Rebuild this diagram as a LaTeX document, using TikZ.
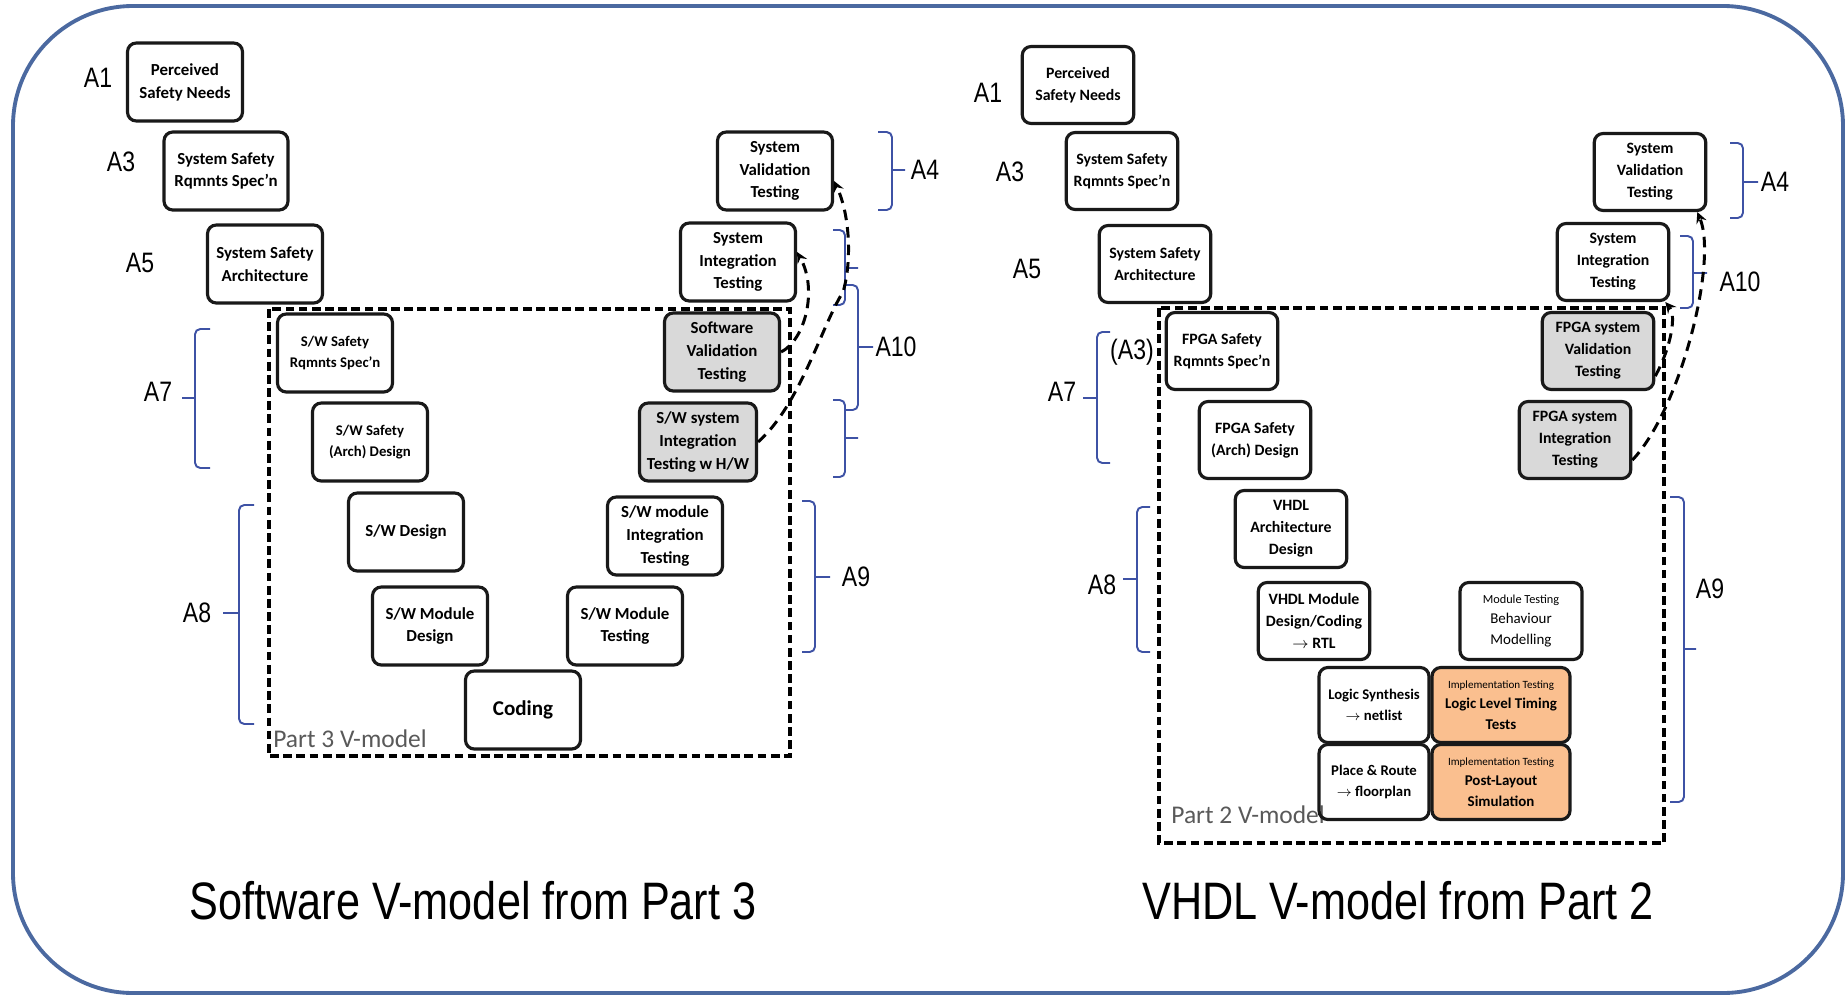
\documentclass[tikz,border=0pt]{standalone}
\usepackage{fontspec}
\setmainfont{Carlito}
\newfontfamily\narrowfont[FakeStretch=0.82]{Liberation Sans}
\definecolor{framecol}{RGB}{75,105,160}
\definecolor{bracecol}{RGB}{62,82,165}
\definecolor{testgray}{RGB}{217,217,217}
\definecolor{implorange}{RGB}{250,191,143}
\definecolor{partgray}{RGB}{89,89,89}
\tikzset{
  outerframe/.style={draw=framecol, line width=2.2pt, rounded corners=2.4cm},
  vmodel/.style={draw=black, line width=1.8pt, dash pattern=on 5pt off 2.5pt},
  vbox/.style={draw=black!90, line width=1.8pt, rounded corners=5pt, minimum width=2.3cm,
    minimum height=1.56cm, inner sep=1pt, align=center, font=\bfseries\fontsize{9.6}{13}\selectfont},
  rbox/.style={vbox, minimum width=2.23cm, minimum height=1.54cm, font=\bfseries\fontsize{9}{12.5}\selectfont},
  smallbox/.style={font=\bfseries\fontsize{8.4}{12}\selectfont},
  testbox/.style={fill=testgray},
  implbox/.style={fill=implorange, minimum width=2.76cm, minimum height=1.5cm, font=\bfseries\fontsize{8.5}{11.5}\selectfont},
  alabel/.style={font=\narrowfont\fontsize{16}{18}\selectfont, inner sep=0pt},
  abrace/.style={draw=bracecol, line width=1.1pt, rounded corners=3pt},
  flow/.style={->, line width=1.7pt, dash pattern=on 6pt off 4pt},
  partlabel/.style={font=\fontsize{14.5}{16}\selectfont, text=partgray, inner sep=0pt},
  vtitle/.style={font=\narrowfont\fontsize{30}{34}\selectfont}
}
\begin{document}
\begin{tikzpicture}[x=0.02cm, y=-0.02cm, >=stealth]
\useasboundingbox (0,0) rectangle (1846,998);
\draw[outerframe] (13,6) rectangle (1843,993);

% software V-model (Part 3)
\draw[vmodel] (269,309) rectangle (790,756);
\node[partlabel, anchor=west] (p3part) at (273,739) {Part 3 V-model};

\node[vbox] (p3needs) at (185,82) {Perceived\\Safety Needs};
\node[vbox, minimum width=2.48cm] (p3sysreq) at (226,171) {System Safety\\Rqmnts Spec'n};
\node[vbox] (p3sysarch) at (265,264) {System Safety\\Architecture};
\node[vbox, smallbox] (p3swreq) at (335,353) {S/W Safety\\Rqmnts Spec'n};
\node[vbox, smallbox] (p3swarch) at (370,442) {S/W Safety\\(Arch) Design};
\node[vbox] (p3swdes) at (406,532) {S/W Design};
\node[vbox] (p3moddes) at (430,626) {S/W Module\\Design};
\node[vbox, font=\bfseries\fontsize{12}{14}\selectfont] (p3coding) at (523,710) {Coding};
\node[vbox] (p3modtest) at (625,626) {S/W Module\\Testing};
\node[vbox] (p3modint) at (665,536) {S/W module\\Integration\\Testing};
\node[vbox, testbox, minimum width=2.34cm] (p3swint) at (698,442) {S/W system\\Integration\\Testing w H/W};
\node[vbox, testbox] (p3swval) at (722,352) {Software\\Validation\\Testing};
\node[vbox] (p3sysint) at (738,262) {System\\Integration\\Testing};
\node[vbox] (p3sysval) at (775,171) {System\\Validation\\Testing};

\node[alabel] (p3a1) at (98,78) {A1};
\node[alabel] (p3a3) at (121,162) {A3};
\node[alabel] (p3a5) at (140,263) {A5};
\node[alabel] (p3a7) at (158,392) {A7};
\node[alabel] (p3a8) at (197,613) {A8};
\node[alabel] (p3a9) at (856,577) {A9};
\node[alabel] (p3a4) at (925,170) {A4};
\node[alabel] (p3a10) at (896,347) {A10};

\draw[abrace] (210,329) -- (195,329) -- (195,468) -- (210,468) (195,398) -- (182,398);
\draw[abrace] (254,505) -- (239,505) -- (239,724) -- (254,724) (239,613) -- (223,613);
\draw[abrace] (802,501) -- (815,501) -- (815,652) -- (802,652) (815,577) -- (830,577);
\draw[abrace] (878,132) -- (892,132) -- (892,210) -- (878,210) (892,170) -- (905,170);
\draw[abrace] (833,230) -- (845,230) -- (845,305) -- (833,305) (845,268) -- (858,268);
\draw[abrace] (845,285) -- (858,285) -- (858,410) -- (845,410) (858,347) -- (873,347);
\draw[abrace] (833,400) -- (845,400) -- (845,477) -- (833,477) (845,438) -- (858,438);

\draw[flow] (p3swint.east) .. controls (800,405) and (822,325) .. (843,292)
  .. controls (852,262) and (850,215) .. ([yshift=-0.2cm]p3sysval.east);
\draw[flow] (p3swval.east) .. controls (805,340) and (818,290) .. ([yshift=0.2cm]p3sysint.east);

\node[vtitle] (p3title) at (473,901) {Software V-model from Part 3};

% VHDL V-model (Part 2)
\draw[vmodel] (1159,308) rectangle (1664,843);
\node[partlabel, anchor=west] (p2part) at (1171,815) {Part 2 V-model};

\node[rbox] (p2needs) at (1078,85) {Perceived\\Safety Needs};
\node[rbox] (p2sysreq) at (1122,171) {System Safety\\Rqmnts Spec'n};
\node[rbox] (p2sysarch) at (1155,264) {System Safety\\Architecture};
\node[rbox] (p2fpgareq) at (1222,351) {FPGA Safety\\Rqmnts Spec'n};
\node[rbox] (p2fpgaarch) at (1255,440) {FPGA Safety\\(Arch) Design};
\node[rbox] (p2vhdlarch) at (1291,529) {VHDL\\Architecture\\Design};
\node[rbox] (p2vhdlmod) at (1314,621) {VHDL Module\\Design/Coding\\$\rightarrow$ RTL};
\node[rbox, minimum width=2.44cm, font=\fontsize{8.5}{11.5}\selectfont] (p2modtest) at (1521,621)
  {{\fontsize{7}{8}\selectfont Module Testing}\\Behaviour\\Modelling};
\node[rbox, smallbox, minimum width=2.2cm, minimum height=1.5cm] (p2logic) at (1374,705) {Logic Synthesis\\$\rightarrow$ netlist};
\node[rbox, implbox] (p2timing) at (1501,705)
  {{\mdseries\fontsize{6.3}{7}\selectfont Implementation Testing}\\Logic Level Timing\\Tests};
\node[rbox, smallbox, minimum width=2.2cm, minimum height=1.5cm] (p2place) at (1374,782) {Place \& Route\\$\rightarrow$ floorplan};
\node[rbox, implbox] (p2postlayout) at (1501,782)
  {{\mdseries\fontsize{6.3}{7}\selectfont Implementation Testing}\\Post-Layout\\Simulation};
\node[rbox, testbox] (p2fpgaint) at (1575,440) {FPGA system\\Integration\\Testing};
\node[rbox, testbox] (p2fpgaval) at (1598,351) {FPGA system\\Validation\\Testing};
\node[rbox] (p2sysint) at (1613,262) {System\\Integration\\Testing};
\node[rbox] (p2sysval) at (1650,172) {System\\Validation\\Testing};

\node[alabel] (p2a1) at (988,93) {A1};
\node[alabel] (p2a3) at (1010,172) {A3};
\node[alabel] (p2a5) at (1027,269) {A5};
\node[alabel] (p2a7) at (1062,392) {A7};
\node[alabel] (p2a3b) at (1132,352) {(A3)};
\node[alabel] (p2a8) at (1102,585) {A8};
\node[alabel] (p2a4) at (1775,182) {A4};
\node[alabel] (p2a10) at (1740,282) {A10};
\node[alabel] (p2a9) at (1710,589) {A9};

\draw[abrace] (1110,332) -- (1097,332) -- (1097,463) -- (1110,463) (1097,398) -- (1083,398);
\draw[abrace] (1150,507) -- (1137,507) -- (1137,652) -- (1150,652) (1137,579) -- (1123,579);
\draw[abrace] (1730,143) -- (1743,143) -- (1743,218) -- (1730,218) (1743,182) -- (1758,182);
\draw[abrace] (1680,236) -- (1693,236) -- (1693,308) -- (1680,308) (1693,273) -- (1707,273);
\draw[abrace] (1670,497) -- (1684,497) -- (1684,802) -- (1670,802) (1684,649) -- (1696,649);

\draw[flow] ([yshift=0.4cm]p2fpgaint.south east) .. controls (1680,410) and (1718,262) .. ([xshift=-0.2cm]p2sysval.south east);
\draw[flow] ([yshift=0.3cm]p2fpgaval.south east) .. controls (1672,345) and (1676,315) .. ([xshift=-0.1cm]p2sysint.south east);

\node[vtitle] (p2title) at (1398,901) {VHDL V-model from Part 2};
\end{tikzpicture}
\end{document}
